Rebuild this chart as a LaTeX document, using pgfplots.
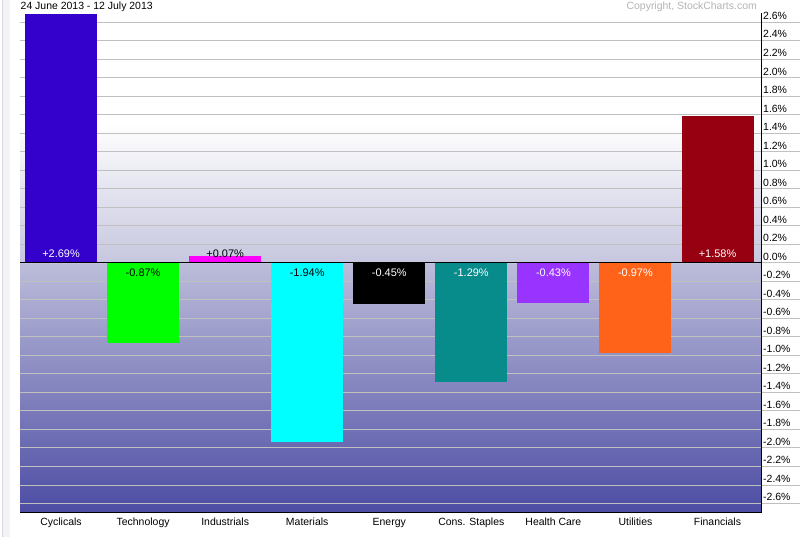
\documentclass[border=0pt]{standalone}
\usepackage{pgfplots}
\pgfplotsset{compat=1.18}
\usepackage{fontspec}
\setmainfont{Liberation Sans}

\definecolor{cCyc}{HTML}{3300CC}
\definecolor{cTec}{HTML}{00FF00}
\definecolor{cInd}{HTML}{FF00FF}
\definecolor{cMat}{HTML}{00FFFF}
\definecolor{cEne}{HTML}{000000}
\definecolor{cSta}{HTML}{088B8B}
\definecolor{cHea}{HTML}{9933FF}
\definecolor{cUti}{HTML}{FF6319}
\definecolor{cFin}{HTML}{960010}
\definecolor{bgbot}{HTML}{4C4CA4}
\definecolor{bgzb}{HTML}{BCBCDA}
\definecolor{bgza}{HTML}{C6C6DF}
\definecolor{gridgray}{HTML}{C0C0BE}
\definecolor{stripfill}{HTML}{F3F3F7}
\definecolor{stripline}{HTML}{D8D8E0}
\definecolor{copygray}{HTML}{B4B4B4}

\pgfdeclareverticalshading{chartbg}{100bp}{color(0bp)=(bgbot); color(25bp)=(bgbot); color(49.9bp)=(bgzb); color(50bp)=(bgza); color(63.9bp)=(white); color(100bp)=(white)}

\newcommand{\lab}[5]{%
  \addplot[draw=none, mark=none, nodes near coords, point meta=explicit symbolic,
    every node near coord/.style={anchor=center, yshift=#4, text=#5, inner sep=0pt, font=\fontsize{11}{13}\selectfont}]
    coordinates {(#1,0) [#3]};}

\begin{document}
\begin{tikzpicture}
\path[use as bounding box] (0,0) rectangle (807bp,537bp);
\fill[white] (0,0) rectangle (807bp,537bp);
\fill[stripfill] (3bp,0) rectangle (10bp,537bp);
\draw[stripline, line width=1bp] (2bp,0) -- (2bp,537bp);
\node[anchor=west, inner sep=0pt, font=\fontsize{10.5}{12}\selectfont] at (20.5bp,530bp) {24 June 2013 - 12 July 2013};
\node[anchor=east, inner sep=0pt, text=copygray, font=\fontsize{10.5}{12}\selectfont] at (757bp,530.5bp) {Copyright, StockCharts.com};
\begin{axis}[
  at={(20bp,24.3bp)}, anchor=south west,
  scale only axis, width=741bp, height=500bp,
  xmin=-0.5, xmax=8.53, ymin=-2.7, ymax=2.7,
  axis x line*=bottom, axis y line*=right,
  axis line style={black, line width=1bp},
  axis background/.style={shading=chartbg},
  xtick={0,1,2,3,4,5,6,7,8},
  xticklabels={Cyclicals,Technology,Industrials,Materials,Energy,Cons. Staples,Health Care,Utilities,Financials},
  xtick style={draw=none},
  xtick align=inside,
  xticklabel style={anchor=north, inner sep=0pt, yshift=-5bp, font=\fontsize{10.5}{12}\selectfont},
  ytick={-2.6,-2.4,-2.2,-2.0,-1.8,-1.6,-1.4,-1.2,-1.0,-0.8,-0.6,-0.4,-0.2,0,0.2,0.4,0.6,0.8,1.0,1.2,1.4,1.6,1.8,2.0,2.2,2.4,2.6},
  yticklabels={-2.6\%,-2.4\%,-2.2\%,-2.0\%,-1.8\%,-1.6\%,-1.4\%,-1.2\%,-1.0\%,-0.8\%,-0.6\%,-0.4\%,-0.2\%,0.0\%,0.2\%,0.4\%,0.6\%,0.8\%,1.0\%,1.2\%,1.4\%,1.6\%,1.8\%,2.0\%,2.2\%,2.4\%,2.6\%},
  ytick align=outside,
  major tick length=39bp,
  ytick style={draw=gridgray, line width=0.8bp},
  yticklabel style={anchor=base west, inner sep=0pt, xshift=-37bp, yshift=2.5bp, font=\fontsize{10.5}{12}\selectfont},
  ymajorgrids, grid style={draw=gridgray, line width=0.8bp},
  clip=false,
]
\addplot[ybar, bar shift=0pt, bar width=72bp, fill=cCyc, draw=none] coordinates {(0,2.69)};
\addplot[ybar, bar shift=0pt, bar width=72bp, fill=cTec, draw=none] coordinates {(1,-0.87)};
\addplot[ybar, bar shift=0pt, bar width=72bp, fill=cInd, draw=none] coordinates {(2,0.07)};
\addplot[ybar, bar shift=0pt, bar width=72bp, fill=cMat, draw=none] coordinates {(3,-1.94)};
\addplot[ybar, bar shift=0pt, bar width=72bp, fill=cEne, draw=none] coordinates {(4,-0.45)};
\addplot[ybar, bar shift=0pt, bar width=72bp, fill=cSta, draw=none] coordinates {(5,-1.29)};
\addplot[ybar, bar shift=0pt, bar width=72bp, fill=cHea, draw=none] coordinates {(6,-0.43)};
\addplot[ybar, bar shift=0pt, bar width=72bp, fill=cUti, draw=none] coordinates {(7,-0.97)};
\addplot[ybar, bar shift=0pt, bar width=72bp, fill=cFin, draw=none] coordinates {(8,1.58)};
\addplot[black, line width=1.2bp, mark=none] coordinates {(-0.5,0) (8.53,0)};
\lab{0}{2.69}{+2.69\%}{8.5bp}{white}
\lab{1}{-0.87}{-0.87\%}{-10bp}{black}
\lab{2}{0.07}{+0.07\%}{8.5bp}{black}
\lab{3}{-1.94}{-1.94\%}{-10bp}{black}
\lab{4}{-0.45}{-0.45\%}{-10bp}{white}
\lab{5}{-1.29}{-1.29\%}{-10bp}{white}
\lab{6}{-0.43}{-0.43\%}{-10bp}{white}
\lab{7}{-0.97}{-0.97\%}{-10bp}{white}
\lab{8}{1.58}{+1.58\%}{8.5bp}{white}
\end{axis}
\end{tikzpicture}
\end{document}
